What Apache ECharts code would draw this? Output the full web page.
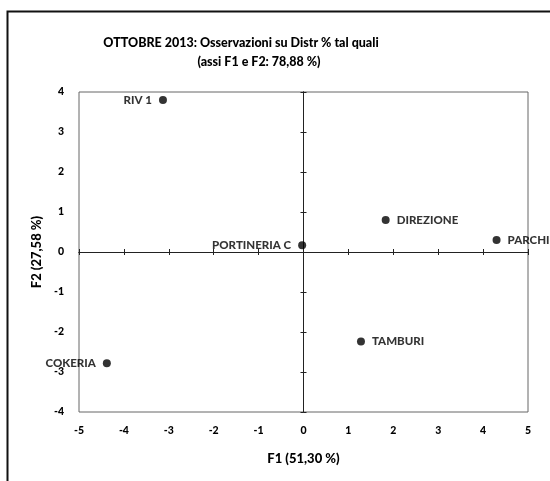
<!DOCTYPE html>
<html>
<head>
<meta charset="utf-8">
<script src="https://cdn.jsdelivr.net/npm/echarts@6/dist/echarts.min.js"></script>
<style>
  html, body { margin: 0; padding: 0; background: #fff; }
  #chart { width: 550px; height: 481px; }
</style>
</head>
<body>
<div id="chart"></div>
<script>
// Observations projected on the first two factorial axes
const stations = ['RIV 1', 'PORTINERIA C', 'DIREZIONE', 'PARCHI', 'TAMBURI', 'COKERIA'];
const f1Scores = [-3.13, -0.03, 1.83, 4.30, 1.28, -4.38];
const f2Scores = [3.80, 0.17, 0.80, 0.30, -2.24, -2.78];

const titleLines = ['OTTOBRE 2013: Osservazioni su Distr % tal quali', '(assi F1 e F2: 78,88 %)'];
const xAxisTitle = 'F1 (51,30 %)';
const yAxisTitle = 'F2 (27,58 %)';

const FONT = 'Lato, "Open Sans", sans-serif';
const INK = '#000';

// which side of the marker each station name sits on
const labelSide = { 'RIV 1': 'left', 'PORTINERIA C': 'left', 'COKERIA': 'left' };

const points = stations.map((name, i) => ({
  name: name,
  value: [f1Scores[i], f2Scores[i]],
  label: { position: labelSide[name] || 'right' }
}));

const chart = echarts.init(document.getElementById('chart'), null, { renderer: 'canvas' });

const tickLabel = { fontFamily: FONT, fontWeight: 900, fontSize: 10.5, color: INK };
const axisName = { fontFamily: FONT, fontWeight: 900, fontSize: 13, color: INK };

// axes drawn through the origin, with ticks crossing the line on both sides
function crossAxis(kind, inside) {
  return {
    type: 'value', min: kind === 'x' ? -5 : -4, max: kind === 'x' ? 5 : 4, interval: 1,
    axisLine: { show: true, onZero: true, onZeroAxisIndex: 0, lineStyle: { color: '#222', width: 1 } },
    axisTick: { show: true, inside: inside, length: 3, lineStyle: { color: '#222' } },
    axisLabel: { show: false },
    splitLine: { show: false }
  };
}

chart.setOption({
  animation: false,
  backgroundColor: '#fff',
  graphic: [
    { type: 'rect', shape: { x: 7.5, y: 11.5, width: 700, height: 700 },
      style: { fill: 'none', stroke: '#111', lineWidth: 2 } },
    { type: 'text', x: 241, y: 43,
      style: { text: titleLines[0], font: '900 12.5px ' + FONT, fill: INK, textAlign: 'center', textVerticalAlign: 'middle' } },
    { type: 'text', x: 259, y: 62,
      style: { text: titleLines[1], font: '900 12.5px ' + FONT, fill: INK, textAlign: 'center', textVerticalAlign: 'middle' } }
  ],
  grid: {
    left: 79, right: 22, top: 92, bottom: 69,
    show: true, borderColor: '#666', borderWidth: 1, backgroundColor: 'transparent'
  },
  xAxis: [
    {
      type: 'value', min: -5, max: 5, interval: 1, position: 'bottom',
      axisLine: { show: false, onZero: false }, axisTick: { show: false }, splitLine: { show: false },
      axisLabel: Object.assign({ margin: 13 }, tickLabel),
      name: xAxisTitle, nameLocation: 'middle', nameGap: 40, nameTextStyle: axisName
    },
    crossAxis('x', false),
    crossAxis('x', true)
  ],
  yAxis: [
    {
      type: 'value', min: -4, max: 4, interval: 1, position: 'left',
      axisLine: { show: false, onZero: false }, axisTick: { show: false }, splitLine: { show: false },
      axisLabel: Object.assign({ margin: 15 }, tickLabel),
      name: yAxisTitle, nameLocation: 'middle', nameGap: 31, nameRotate: 90, nameTextStyle: axisName
    },
    crossAxis('y', false),
    crossAxis('y', true)
  ],
  series: [{
    type: 'scatter',
    xAxisIndex: 0, yAxisIndex: 0,
    symbol: 'circle', symbolSize: 8,
    itemStyle: { color: INK },
    label: {
      show: true, formatter: p => p.name, distance: 7,
      fontFamily: FONT, fontWeight: 900, fontSize: 11.5, color: INK
    },
    data: points,
    z: 5
  }]
});
</script>
</body>
</html>
